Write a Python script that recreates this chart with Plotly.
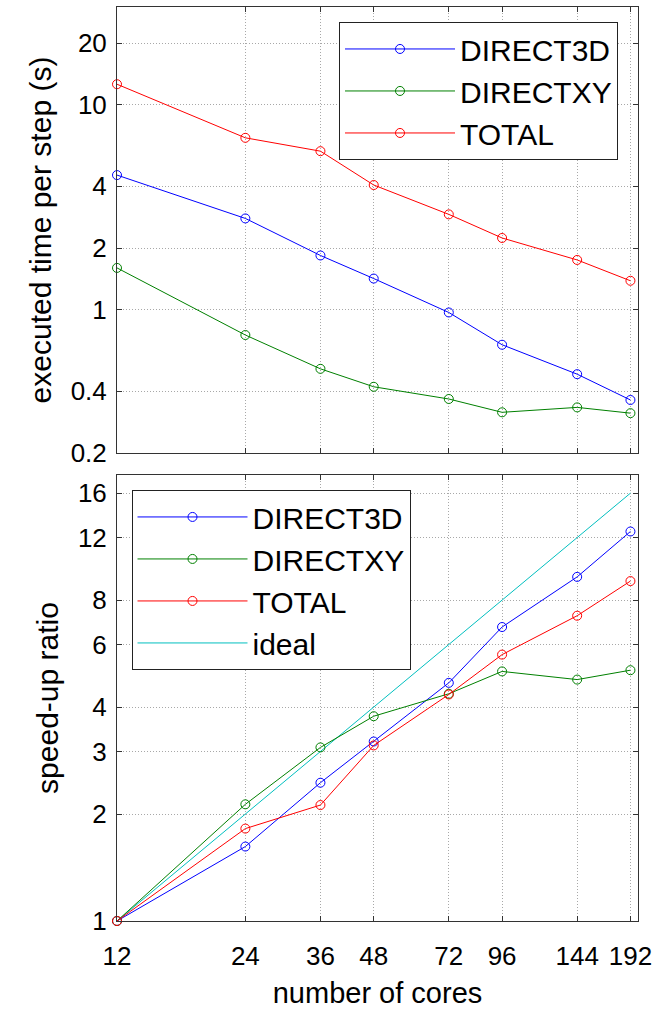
import plotly.graph_objects as go
from plotly.subplots import make_subplots

# Core counts used in the scaling runs
cores = [12, 24, 36, 48, 72, 96, 144, 192]

# Wall-clock time per step (s)
time_direct3d = [4.54, 2.79, 1.84, 1.42, 0.97, 0.675, 0.485, 0.363]
time_directxy = [1.60, 0.753, 0.515, 0.421, 0.367, 0.316, 0.334, 0.313]
time_total = [12.6, 6.9, 5.94, 4.06, 2.92, 2.24, 1.75, 1.385]

# Speed-up relative to the 12-core run
speedup_direct3d = [1.0, 1.62, 2.45, 3.20, 4.68, 6.72, 9.30, 12.48]
speedup_directxy = [1.0, 2.13, 3.08, 3.77, 4.36, 5.04, 4.78, 5.08]
speedup_total = [1.0, 1.82, 2.12, 3.12, 4.34, 5.62, 7.23, 9.05]
speedup_ideal = [1, 2, 3, 4, 6, 8, 12, 16]

# Tick positions
x_ticks = [12, 24, 36, 48, 72, 96, 144, 192]
time_ticks = [0.2, 0.4, 1, 2, 4, 10, 20]
time_ticklabels = ["0.2", "0.4", "1", "2", "4", "10", "20"]
speedup_ticks = [1, 2, 3, 4, 6, 8, 12, 16]

BLUE = "rgb(0,0,255)"
GREEN = "rgb(0,128,0)"
RED = "rgb(255,0,0)"
CYAN = "rgb(0,191,191)"
FONT = "Liberation Sans, Arial, Helvetica, sans-serif"

fig = make_subplots(rows=2, cols=1, shared_xaxes=False, vertical_spacing=0.0)


def line_trace(x, y, name, color, legend, rank, markers=True):
    return go.Scatter(
        x=x, y=y, name=name, legend=legend, legendrank=rank,
        legendgroup=f"{legend}-{name}",
        mode="lines+markers" if markers else "lines",
        line=dict(color=color, width=1),
        marker=dict(symbol="circle-open", size=9, color=color, line=dict(width=1, color=color)),
        cliponaxis=False,
    )


fig.add_trace(line_trace(cores, time_direct3d, "DIRECT3D", BLUE, "legend", 1), row=1, col=1)
fig.add_trace(line_trace(cores, time_directxy, "DIRECTXY", GREEN, "legend", 2), row=1, col=1)
fig.add_trace(line_trace(cores, time_total, "TOTAL", RED, "legend", 3), row=1, col=1)

fig.add_trace(line_trace(cores, speedup_ideal, "ideal", CYAN, "legend2", 4, markers=False), row=2, col=1)
fig.add_trace(line_trace(cores, speedup_direct3d, "DIRECT3D", BLUE, "legend2", 1), row=2, col=1)
fig.add_trace(line_trace(cores, speedup_directxy, "DIRECTXY", GREEN, "legend2", 2), row=2, col=1)
fig.add_trace(line_trace(cores, speedup_total, "TOTAL", RED, "legend2", 3), row=2, col=1)

axis_common = dict(
    showline=True, linecolor="#333333", linewidth=1, mirror="ticks",
    ticks="inside", ticklen=5, tickcolor="#333333", tickwidth=1,
    showgrid=True, gridcolor="#a8a8a8", griddash="1px,2px", gridwidth=1,
    zeroline=False,
    tickfont=dict(family=FONT, size=26, color="black"),
)

fig.update_xaxes(type="log", range=[1.0791812, 2.30103], tickvals=x_ticks,
                 ticktext=[str(v) for v in x_ticks], **axis_common)
fig.update_xaxes(showticklabels=False, row=1, col=1)
fig.update_xaxes(title=dict(text="number of cores", font=dict(family=FONT, size=29, color="black"), standoff=12),
                 ticklabelstandoff=12, row=2, col=1)

fig.update_yaxes(type="log", **axis_common)
fig.update_yaxes(range=[-0.69897, 1.4771], tickvals=time_ticks, ticktext=time_ticklabels,
                 domain=[0.512, 1.0], ticklabelstandoff=4,
                 title=dict(text="executed time per step (s)", font=dict(family=FONT, size=30, color="black"), standoff=10),
                 row=1, col=1)
fig.update_yaxes(range=[0, 1.2553], tickvals=speedup_ticks, ticktext=[str(v) for v in speedup_ticks],
                 domain=[0.0, 0.488], ticklabelstandoff=4,
                 title=dict(text="speed-up ratio", font=dict(family=FONT, size=30, color="black"), standoff=10),
                 row=2, col=1)

legend_common = dict(
    bgcolor="white", bordercolor="#222222", borderwidth=1,
    font=dict(family=FONT, size=30, color="black"),
    xanchor="left", yanchor="top", itemwidth=110, traceorder="normal",
    tracegroupgap=3,
)

fig.update_layout(
    width=668, height=1010,
    margin=dict(l=117, r=30, t=6, b=88),
    paper_bgcolor="white", plot_bgcolor="white",
    showlegend=True,
    legend=dict(x=(339 - 117) / 521, y=1 - (21 - 6) / 916, **legend_common),
    legend2=dict(x=(131.5 - 117) / 521, y=1 - (490 - 6) / 916, **legend_common),
)

fig.write_html("out.html")
